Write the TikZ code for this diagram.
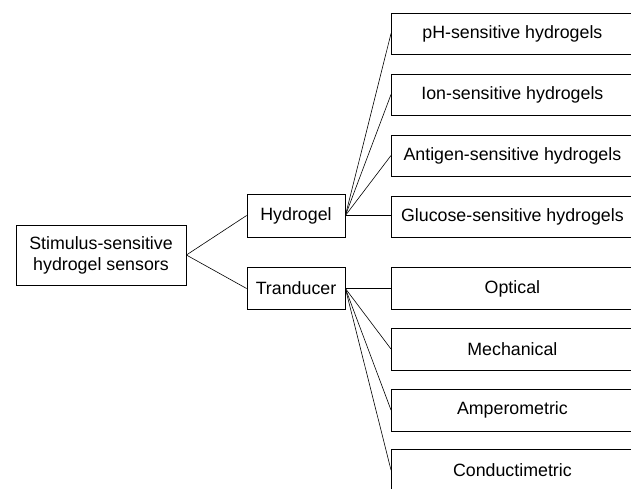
\documentclass[tikz,border=0pt]{standalone}
\usepackage{fontspec}
\setmainfont{Liberation Sans}
\tikzset{
% Three box styles for the sensor tree: root, branch and leaf
root box/.style={draw,minimum width=170,minimum height=60,align=center,inner sep=2},
branch box/.style={draw,minimum width=98,minimum height=43,inner sep=2},
leaf box/.style={draw,anchor=west,minimum width=242,minimum height=41,inner sep=2},
link/.style={line width=0.6pt}
}

\begin{document}
\begin{tikzpicture}[x=1pt,y=-1pt,line width=0.8pt,font=\fontsize{17.8}{21}\selectfont]
\useasboundingbox (0,0) rectangle (631,488);
\clip (0,0) rectangle (631,488);
% The root and the two branches
\node(root)[root box] at (101,255) {Stimulus-sensitive\\hydrogel sensors};
\node(hyd)[branch box] at (296,215.5) {Hydrogel};
\node(tra)[branch box,minimum height=42] at (296,288.5) {Tranducer};
% Leaves of the hydrogel branch
\node(ph)[leaf box] at (391,33.5) {pH-sensitive hydrogels};
\node(ion)[leaf box] at (391,94.5) {Ion-sensitive hydrogels};
\node(ant)[leaf box] at (391,155.5) {Antigen-sensitive hydrogels};
\node(glu)[leaf box] at (391,216.5) {Glucose-sensitive hydrogels};
% Leaves of the transducer branch
\node(opt)[leaf box,minimum height=42] at (391,288.5) {Optical};
\node(mec)[leaf box,minimum height=42] at (391,349) {Mechanical};
\node(amp)[leaf box,minimum height=42] at (391,410) {Amperometric};
\node(con)[leaf box,minimum height=42] at (391,470) {Conductimetric};
% The links
\draw[link] (root.east) -- (hyd.west);
\draw[link] (root.east) -- (tra.west);
\draw[link] (hyd.east) -- (ph.west);
\draw[link] (hyd.east) -- (ion.west);
\draw[link] (hyd.east) -- (ant.west);
\draw[link] (hyd.east) -- (hyd.east -| glu.west);
\draw[link] (tra.east) -- (opt.west);
\draw[link] (tra.east) -- (mec.west);
\draw[link] (tra.east) -- (amp.west);
\draw[link] (tra.east) -- (con.west);
\end{tikzpicture}
\end{document}
